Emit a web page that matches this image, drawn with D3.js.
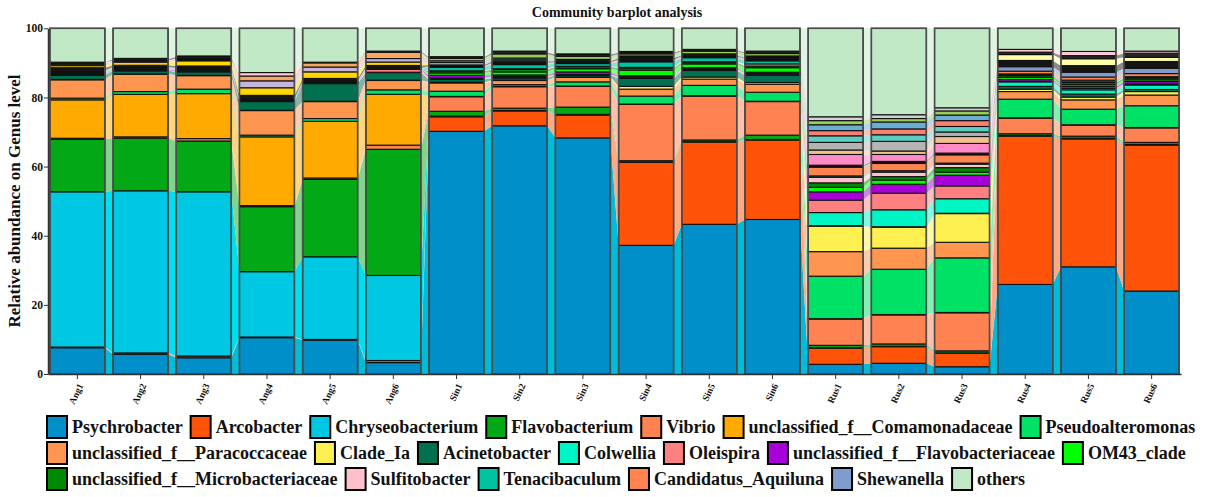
<!DOCTYPE html>
<html>
<head>
<meta charset="utf-8">
<script src="https://cdnjs.cloudflare.com/ajax/libs/d3/7.8.5/d3.min.js"></script>
<style>
  body { margin: 0; background: #fff; }
  text { font-family: "Liberation Serif", "Times New Roman", serif; font-weight: bold; fill: #111; }
</style>
</head>
<body>
<svg id="chart" width="1208" height="497"></svg>
<script>
// ---- data (relative abundance, %) ----
const samples = ["Ang1", "Ang2", "Ang3", "Ang4", "Ang5", "Ang6",
                 "Sin1", "Sin2", "Sin3", "Sin4", "Sin5", "Sin6",
                 "Rus1", "Rus2", "Rus3", "Rus4", "Rus5", "Rus6"];
const yTicks = [0, 20, 40, 60, 80, 100];

// genera shown in the legend
const psychrobacter     = [7.6, 5.7, 4.7, 10.5, 9.8, 3.3, 70.2, 71.8, 68.3, 37.2, 43.3, 44.7, 2.8, 3.1, 2.1, 25.9, 31.0, 24.0];
const arcobacter        = [0.2, 0.4, 0.5, 0.2, 0.2, 0.6, 4.2, 4.3, 6.6, 24.0, 23.8, 23.0, 4.7, 4.8, 3.9, 42.9, 37.0, 42.2];
const chryseobacterium  = [44.9, 46.9, 47.5, 18.9, 23.9, 24.6, 0.2, 0.1, 0.2, 0.1, 0.1, 0.1, 0.1, 0.1, 0.1, 0.2, 0.2, 0.2];
const flavobacterium    = [15.2, 15.2, 14.7, 18.8, 22.4, 36.5, 1.4, 0.7, 2.1, 0.4, 0.5, 1.3, 0.7, 0.7, 0.6, 0.5, 0.6, 0.6];
const vibrio            = [0.3, 0.4, 0.7, 0.3, 0.4, 1.2, 4.2, 6.2, 6.0, 16.3, 12.7, 9.7, 7.6, 8.4, 11.0, 4.5, 3.2, 4.2];
const comamonadaceae    = [11.1, 12.3, 13.0, 19.9, 16.4, 14.7, 0.1, 0.1, 0.1, 0.1, 0.1, 0.1, 0.1, 0.1, 0.1, 0.1, 0.1, 0.1];
const pseudoalteromonas = [0.5, 0.8, 1.3, 0.5, 0.8, 1.3, 1.5, 0.5, 1.2, 2.3, 3.0, 2.6, 12.3, 13.1, 15.8, 5.4, 4.5, 6.3];
const paracoccaceae     = [5.3, 5.0, 3.9, 7.1, 4.9, 2.7, 2.4, 1.2, 1.3, 2.0, 1.8, 2.3, 7.1, 6.1, 4.5, 2.2, 2.7, 3.1];
const cladeIa           = [0.1, 0.1, 0.1, 0.1, 0.1, 0.1, 0.2, 0.1, 0.1, 0.8, 0.6, 0.5, 7.4, 6.1, 8.3, 0.7, 0.8, 1.0];
const acinetobacter     = [1.2, 0.9, 1.0, 2.5, 5.1, 2.2, 0.8, 0.6, 0.5, 2.3, 1.9, 2.1, 0.1, 0.1, 0.1, 0.8, 0.9, 0.6];
const colwellia         = [0.1, 0.1, 0.1, 0.1, 0.1, 0.1, 0.2, 0.2, 0.1, 0.3, 0.3, 0.3, 3.8, 4.9, 4.2, 1.3, 1.2, 1.3];
const oleispira         = [0.1, 0.1, 0.1, 0.1, 0.1, 0.8, 0.2, 0.3, 0.1, 0.2, 0.2, 0.3, 3.6, 4.8, 3.7, 0.2, 0.4, 0.3];
const flavobacteriaceae = [0.2, 0.2, 0.2, 0.1, 0.1, 0.1, 0.8, 0.4, 0.8, 0.3, 0.3, 0.3, 2.4, 2.6, 3.1, 0.5, 0.6, 0.7];
const om43Clade         = [0.1, 0.1, 0.1, 0.05, 0.05, 0.05, 0.7, 0.9, 0.9, 1.6, 1.1, 1.3, 1.3, 1.2, 0.9, 0.6, 0.5, 0.5];
const microbacteriaceae = [0.1, 0.1, 0.1, 0.05, 0.05, 0.05, 0.5, 0.7, 0.6, 0.6, 0.4, 0.5, 1.3, 1.0, 1.3, 0.5, 0.6, 0.5];
const sulfitobacter     = [0.1, 0.1, 0.1, 0.05, 0.05, 0.05, 0.1, 0.2, 0.1, 0.2, 0.2, 0.6, 1.6, 1.3, 1.0, 0.2, 0.2, 0.2];
const tenacibaculum     = [0.1, 0.1, 0.1, 0.05, 0.05, 0.05, 1.0, 1.2, 0.8, 1.6, 1.2, 0.9, 0.4, 0.4, 0.3, 0.3, 0.5, 0.2];
const aquiluna          = [0.2, 0.1, 0.1, 0.05, 0.05, 0.05, 0.2, 0.3, 0.2, 0.3, 0.2, 0.3, 2.5, 2.1, 2.4, 0.8, 0.9, 0.9];
const shewanella        = [0.3, 0.2, 0.2, 0.15, 0.15, 0.1, 0.1, 0.2, 0.2, 0.3, 0.2, 0.3, 0.3, 0.3, 0.2, 1.3, 1.4, 1.5];

// smaller genera stacked in the bars but left out of the legend
const minor1  = [0.9, 0.5, 0.6, 1.1, 0.8, 0.7, 0.4, 0.5, 0.3, 0.5, 0.3, 0.3, 0.3, 0.3, 0.3, 1.8, 1.9, 2.0];
const minor2  = [0.6, 0.9, 1.5, 2.2, 1.9, 1.0, 0, 0, 0, 0, 0, 0, 0, 0, 0, 0, 0, 0];
const minor3  = [0.4, 0.3, 0.3, 2.0, 1.4, 1.0, 0, 0, 0, 0, 0, 0, 0, 0, 0, 0, 0, 0];
const minor4  = [0.2, 0.2, 0.2, 1.4, 1.2, 1.8, 0, 0, 0, 0, 0, 0, 0, 0, 0, 0, 0, 0];
const minor5  = [0, 0, 0, 0, 0, 0, 0, 0, 0, 0, 0, 0, 3.1, 2.0, 2.8, 0, 0, 0];
const minor6  = [0, 0, 0, 0, 0, 0, 0, 0, 0, 0, 0, 0, 1.3, 1.0, 2.0, 0, 0, 0];
const minor7  = [0.2, 0, 0.2, 0, 0, 0, 0.7, 0.4, 0.3, 0.3, 0.2, 0.2, 2.2, 2.8, 1.3, 0, 0, 0];
const minor8  = [0, 0, 0, 0, 0, 0, 0.5, 0.5, 0.2, 0.3, 0.2, 0.3, 1.9, 1.9, 1.6, 0, 0, 0];
const minor9  = [0, 0, 0, 0, 0, 0, 0, 0, 0, 0, 0, 0, 1.5, 1.7, 1.7, 0, 0, 0];
const minor10 = [0, 0, 0, 0, 0, 0, 0, 0, 0, 0, 0, 0, 1.7, 2.0, 1.6, 0, 0, 0];
const minor11 = [0, 0, 0, 0, 0, 0, 0.7, 1.2, 0.9, 0.6, 0.8, 0.7, 1.2, 1.0, 1.2, 0, 0, 0];
const minor12 = [0.2, 0, 0, 0, 0, 0, 0, 0, 0, 0, 0, 0, 1.1, 1.1, 0.9, 0, 0, 0];
const minor13 = [0, 0, 0, 0, 0, 0, 0, 0, 0, 0, 0, 0, 0, 0, 0, 1.7, 2.0, 1.2];
const minor14 = [0, 0.4, 0.5, 0, 0, 0.35, 0.3, 0.5, 0.5, 0.4, 0.3, 0.4, 0, 0, 0, 0.7, 0.9, 1.2];
const minor15 = [0, 0.2, 0.2, 1.0, 0.2, 0, 0.2, 0.3, 0.2, 0.3, 0.2, 0.3, 0, 0, 0, 0.8, 1.2, 0.6];

const others = [9.8, 8.7, 8.0, 12.8, 9.8, 6.6, 8.2, 6.6, 7.4, 6.7, 6.1, 6.6, 25.6, 25.0, 23.0, 6.1, 6.7, 6.6];

const legendNames = ["Psychrobacter", "Arcobacter", "Chryseobacterium", "Flavobacterium", "Vibrio",
  "unclassified_f__Comamonadaceae", "Pseudoalteromonas", "unclassified_f__Paracoccaceae", "Clade_Ia",
  "Acinetobacter", "Colwellia", "Oleispira", "unclassified_f__Flavobacteriaceae", "OM43_clade",
  "unclassified_f__Microbacteriaceae", "Sulfitobacter", "Tenacibaculum", "Candidatus_Aquiluna",
  "Shewanella", "others"];
const legendColors = ["#008fc9", "#ff530a", "#00c8e3", "#02a815", "#ff8352", "#ffaa00", "#00e265",
  "#ff9650", "#fff052", "#00704f", "#00f5c4", "#ff8080", "#a800d8", "#00ff00", "#008a00",
  "#ffc0cb", "#00c49f", "#ff8450", "#7f9ccd", "#c1e9c5"];
const minorColors = ["#151515", "#ffd700", "#c6b6de", "#f6a863", "#ff8ac8", "#f0c08c", "#b4b4b4",
  "#5ccfc0", "#fa8072", "#6aaed6", "#99cc55", "#d3d3d3", "#ffffa6", "#262626", "#ffc9d9"];

const namedValues = [psychrobacter, arcobacter, chryseobacterium, flavobacterium, vibrio, comamonadaceae,
  pseudoalteromonas, paracoccaceae, cladeIa, acinetobacter, colwellia, oleispira, flavobacteriaceae,
  om43Clade, microbacteriaceae, sulfitobacter, tenacibaculum, aquiluna, shewanella];
const minorValues = [minor1, minor2, minor3, minor4, minor5, minor6, minor7, minor8, minor9, minor10,
  minor11, minor12, minor13, minor14, minor15];

// stacking order: named genera, minor genera, others on top
const keys = legendNames.slice(0, 19)
  .concat(minorValues.map((v, i) => "minor_" + (i + 1)))
  .concat(["others"]);
const allValues = namedValues.concat(minorValues).concat([others]);
const colors = legendColors.slice(0, 19).concat(minorColors).concat([legendColors[19]]);
const color = d3.scaleOrdinal().domain(keys).range(colors);

// link bands between bars are a paler tint, a few are brighter
const linkOverride = { "Psychrobacter": "#00bbd9", "Chryseobacterium": "#00dff0" };
function linkColor(k) {
  if (linkOverride[k]) return linkOverride[k];
  return d3.interpolateRgb(color(k), "#ffffff")(0.5);
}

const rows = samples.map((s, i) => {
  const row = { sample: s };
  keys.forEach((k, j) => { row[k] = allValues[j][i]; });
  return row;
});

// ---- layout ----
const svg = d3.select("#chart");
const x = d3.scaleBand().domain(samples).range([48, 1181]).paddingInner(0.13).paddingOuter(0.03);
const y = d3.scaleLinear().domain([0, 100]).range([374, 28.3]);
const bw = x.bandwidth();

const stacked = d3.stack().keys(keys)(rows);

// links between neighbouring bars
const link = d3.area()
  .x(d => d.x)
  .y0(d => y(d.y0))
  .y1(d => y(d.y1));

const linkG = svg.append("g").attr("class", "links");
stacked.forEach(layer => {
  for (let i = 0; i < samples.length - 1; i++) {
    const a = layer[i], b = layer[i + 1];
    if (a[1] - a[0] <= 0 && b[1] - b[0] <= 0) continue;
    linkG.append("path")
      .attr("d", link([
        { x: x(samples[i]) + bw, y0: a[0], y1: a[1] },
        { x: x(samples[i + 1]), y0: b[0], y1: b[1] }
      ]))
      .attr("fill", linkColor(layer.key))
      .attr("stroke", "none");
  }
});

// stacked segments
const barG = svg.append("g").attr("class", "bars");
barG.selectAll("g")
  .data(stacked)
  .enter().append("g")
    .attr("fill", d => color(d.key))
  .selectAll("rect")
  .data(d => d.filter(p => p[1] - p[0] > 0))
  .enter().append("rect")
    .attr("x", d => x(d.data.sample))
    .attr("width", bw)
    .attr("y", d => y(d[1]))
    .attr("height", d => y(d[0]) - y(d[1]))
    .attr("stroke", "#111")
    .attr("stroke-width", 1.1);

// outline around every column
svg.append("g").selectAll("rect")
  .data(samples)
  .enter().append("rect")
    .attr("x", d => x(d))
    .attr("width", bw)
    .attr("y", y(100))
    .attr("height", y(0) - y(100))
    .attr("fill", "none")
    .attr("stroke", "#4d4d4d")
    .attr("stroke-width", 1.6);

// axes
const yAxis = svg.append("g")
  .attr("transform", "translate(48,0)")
  .call(d3.axisLeft(y).tickValues(yTicks).tickSize(4).tickSizeOuter(0));
yAxis.selectAll("text").style("font-size", "11.5px").attr("x", -5);
yAxis.select(".domain").attr("stroke", "#333").attr("stroke-width", 1.5);
yAxis.selectAll(".tick line").attr("stroke", "#333");

const xAxis = svg.append("g")
  .attr("transform", "translate(0,374)")
  .call(d3.axisBottom(x).tickSize(5).tickSizeOuter(0));
xAxis.select(".domain").attr("stroke", "#333").attr("stroke-width", 1.5);
xAxis.selectAll(".tick line").attr("stroke", "#333");
xAxis.selectAll("text")
  .style("font-size", "9.5px")
  .attr("text-anchor", "end")
  .attr("x", 0).attr("y", 0)
  .attr("dy", "0.35em")
  .attr("transform", "translate(3,10) rotate(-65)");

// titles
svg.append("text")
  .attr("x", 617).attr("y", 17)
  .attr("text-anchor", "middle")
  .style("font-size", "14px")
  .text("Community barplot analysis");

svg.append("text")
  .attr("transform", "translate(20,201) rotate(-90)")
  .attr("text-anchor", "middle")
  .style("font-size", "17px")
  .text("Relative abundance on Genus level");

// legend, three rows flowing left to right
const legendRows = [7, 7, 6];
const rowY = [427, 453, 479];
const legendG = svg.append("g").attr("class", "legend");
let idx = 0;
legendRows.forEach((count, r) => {
  let lx = 47;
  for (let k = 0; k < count; k++, idx++) {
    const g = legendG.append("g").attr("transform", `translate(${lx},${rowY[r]})`);
    g.append("rect")
      .attr("x", 0).attr("y", -11)
      .attr("width", 20).attr("height", 22)
      .attr("fill", legendColors[idx])
      .attr("stroke", "#000")
      .attr("stroke-width", 2);
    const t = g.append("text")
      .attr("x", 25).attr("y", 0).attr("dy", "0.35em")
      .style("font-size", "18px")
      .text(legendNames[idx]);
    lx += 25 + t.node().getComputedTextLength() + 8;
  }
});
</script>
</body>
</html>
